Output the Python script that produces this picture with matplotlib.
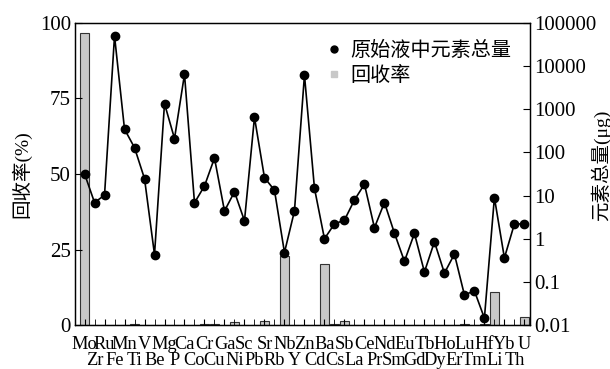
import numpy as np
import matplotlib.pyplot as plt
from matplotlib.lines import Line2D

plt.rcParams['font.family'] = ['Liberation Serif', 'Noto Sans CJK SC']
plt.rcParams['mathtext.fontset'] = 'stix'

elements = ['Mo', 'Zr', 'Ru', 'Fe', 'Mn', 'Ti', 'V', 'Be', 'Mg', 'P',
            'Ca', 'Co', 'Cr', 'Cu', 'Ga', 'Ni', 'Sc', 'Pb', 'Sr', 'Rb',
            'Nb', 'Y', 'Zn', 'Cd', 'Ba', 'Cs', 'Sb', 'La', 'Ce', 'Pr',
            'Nd', 'Sm', 'Eu', 'Gd', 'Tb', 'Dy', 'Ho', 'Er', 'Lu', 'Tm',
            'Hf', 'Li', 'Yb', 'Th', 'U']

# 回收率 (%)
recovery = [96.5, 0, 0, 0, 0, 0.3, 0, 0, 0, 0,
            0, 0, 0.2, 0.3, 0, 1.0, 0, 0, 1.3, 0,
            22.8, 0, 0, 0, 20.1, 0.3, 1.3, 0, 0, 0,
            0, 0, 0, 0, 0, 0, 0, 0, 0.2, 0,
            0.4, 11.1, 0, 0, 2.8]

# 原始液中元素总量 (μg)
total = [32, 6.9, 10.2, 50000, 345, 129, 24.7, 0.43, 1350, 209,
         6460, 6.8, 16.7, 74, 4.4, 12.2, 2.6, 650, 26, 13.3,
         0.48, 4.4, 6200, 14.8, 1.0, 2.2, 2.7, 7.9, 18.3, 1.8,
         6.9, 1.35, 0.30, 1.33, 0.17, 0.85, 0.16, 0.44, 0.050, 0.062,
         0.0145, 9.0, 0.36, 2.2, 2.2]

x = np.arange(len(elements))

fig = plt.figure(figsize=(6.1, 3.69), dpi=100)
ax = fig.add_axes([0.123, 0.119, 0.746, 0.819])

ax.bar(x, recovery, width=0.85, color='#c8c8c8', edgecolor='#333333', linewidth=0.8)
ax.set_xlim(-0.95, 44.57)
ax.set_ylim(0, 100)
ax.set_yticks([0, 25, 50, 75, 100])
ax.set_ylabel('回收率(%)', fontsize=14)
ax.yaxis.set_label_coords(-0.095, 0.5)
ax.tick_params(axis='y', direction='in', length=5, labelsize=15, pad=3)

# 元素标签分两行交错: 偶数位放主刻度, 奇数位放次刻度
ax.set_xticks(x[::2])
ax.set_xticklabels(elements[::2], fontsize=13.2)
ax.set_xticks(x[1::2], minor=True)
ax.set_xticklabels(elements[1::2], minor=True, fontsize=13.2)
ax.tick_params(axis='x', which='major', direction='in', length=4, pad=8)
ax.tick_params(axis='x', which='minor', direction='in', length=4, pad=19.5)

ax2 = ax.twinx()
ax2.plot(x, total, color='black', linewidth=1.2, marker='o', markersize=6)
ax2.set_yscale('log')
ax2.set_ylim(0.01, 100000)
ax2.set_yticks([0.01, 0.1, 1, 10, 100, 1000, 10000, 100000])
ax2.set_yticklabels(['0.01', '0.1', '1', '10', '100', '1000', '10000', '100000'])
ax2.yaxis.set_minor_locator(plt.NullLocator())
ax2.tick_params(axis='y', direction='in', length=5, labelsize=15, pad=3)
ax2.set_ylabel('元素总量(μg)', fontsize=14)
ax2.yaxis.set_label_coords(1.133, 0.53)

for a in (ax, ax2):
    for s in a.spines.values():
        s.set_linewidth(0.9)

handles = [Line2D([], [], linestyle='none', marker='o', color='black', markersize=5),
           Line2D([], [], linestyle='none', marker='s', color='#c8c8c8', markersize=5)]
ax2.legend(handles, ['原始液中元素总量', '回收率'], loc='upper right',
           bbox_to_anchor=(0.99, 0.985), frameon=False, fontsize=14.5,
           handlelength=0.6, handletextpad=0.5, labelspacing=0.3, borderpad=0.2)

fig.savefig('out.png', dpi=100)
